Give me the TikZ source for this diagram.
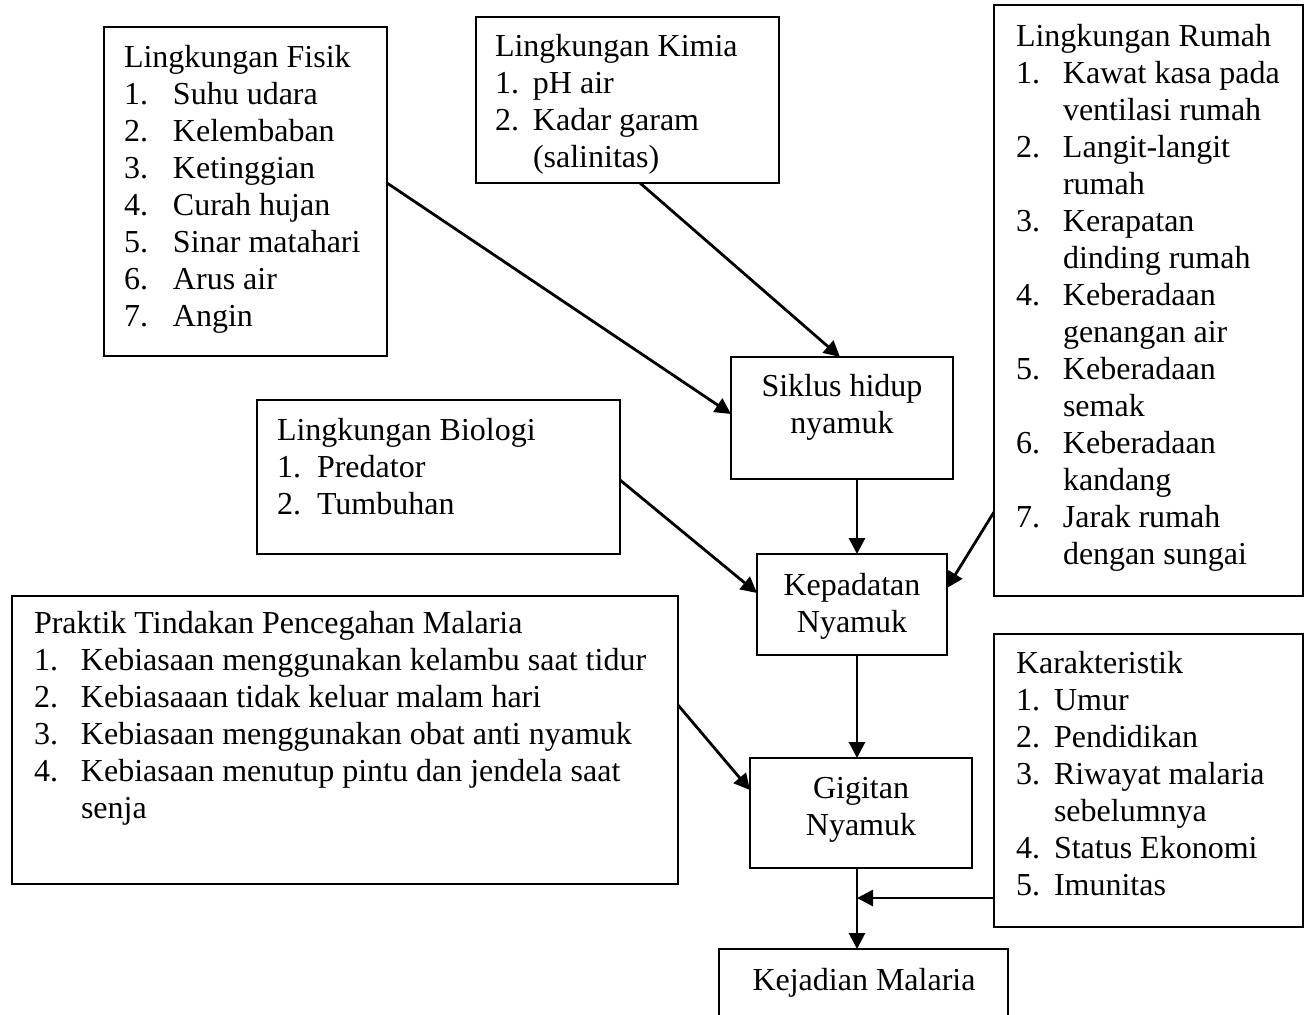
\documentclass[tikz,border=0pt]{standalone}
\usepackage{fontspec}
\setmainfont{Liberation Serif}
\usetikzlibrary{arrows.meta,calc}
\begin{document}
\begin{tikzpicture}[x=0.5pt,y=-0.5pt,
  box/.style={draw=black, line width=1pt, rectangle, inner sep=0pt, outer sep=0pt, anchor=north west},
  txt/.style={inner sep=0pt, outer sep=0pt, anchor=base west, font=\fontsize{16}{18.5}\selectfont},
  ctxt/.style={inner sep=0pt, outer sep=0pt, anchor=base, font=\fontsize{16}{18.5}\selectfont},
  arr/.style={line width=1.4pt, -{Triangle[length=8pt,width=8pt]}}]
\path[use as bounding box] (0,0) rectangle (1310,1014);
\clip (0,0) rectangle (1310,1014);

% boxes
\node[box, minimum width=141.5pt, minimum height=164.5pt] (fisik) at (104,27) {};
\node[box, minimum width=151.5pt, minimum height=83pt] (kimia) at (476,17) {};
\node[box, minimum width=154.5pt, minimum height=295.5pt] (rumah) at (994,5) {};
\node[box, minimum width=111pt, minimum height=61pt] (siklus) at (731,357) {};
\node[box, minimum width=181.5pt, minimum height=77pt] (biologi) at (257,400) {};
\node[box, minimum width=95pt, minimum height=50.5pt] (kepadatan) at (757,554) {};
\node[box, minimum width=333pt, minimum height=144pt] (praktik) at (12,596) {};
\node[box, minimum width=111pt, minimum height=55pt] (gigitan) at (750,758) {};
\node[box, minimum width=154.5pt, minimum height=146.5pt] (karakter) at (994,634) {};
\node[box, minimum width=144.5pt, minimum height=45.5pt] (kejadian) at (719,949) {};

% texts
\node[txt] (fisikt) at (124,67) {\begin{tabular}[t]{@{}p{24.5pt}@{}l@{}}
\multicolumn{2}{@{}l@{}}{Lingkungan Fisik}\\
1. & Suhu udara\\
2. & Kelembaban\\
3. & Ketinggian\\
4. & Curah hujan\\
5. & Sinar matahari\\
6. & Arus air\\
7. & Angin
\end{tabular}};

\node[txt] (kimiat) at (495,56) {\begin{tabular}[t]{@{}p{19pt}@{}l@{}}
\multicolumn{2}{@{}l@{}}{Lingkungan Kimia}\\
1. & pH air\\
2. & Kadar garam\\
 & (salinitas)
\end{tabular}};

\node[txt] (rumaht) at (1016,46) {\begin{tabular}[t]{@{}p{23.5pt}@{}l@{}}
\multicolumn{2}{@{}l@{}}{Lingkungan Rumah}\\
1. & Kawat kasa pada\\
 & ventilasi rumah\\
2. & Langit-langit\\
 & rumah\\
3. & Kerapatan\\
 & dinding rumah\\
4. & Keberadaan\\
 & genangan air\\
5. & Keberadaan\\
 & semak\\
6. & Keberadaan\\
 & kandang\\
7. & Jarak rumah\\
 & dengan sungai
\end{tabular}};

\node[txt] (biologit) at (277,440) {\begin{tabular}[t]{@{}p{20pt}@{}l@{}}
\multicolumn{2}{@{}l@{}}{Lingkungan Biologi}\\
1. & Predator\\
2. & Tumbuhan
\end{tabular}};

\node[txt] (praktikt) at (34,633) {\begin{tabular}[t]{@{}p{23.5pt}@{}l@{}}
\multicolumn{2}{@{}l@{}}{Praktik Tindakan Pencegahan Malaria}\\
1. & Kebiasaan menggunakan kelambu saat tidur\\
2. & Kebiasaaan tidak keluar malam hari\\
3. & Kebiasaan menggunakan obat anti nyamuk\\
4. & Kebiasaan menutup pintu dan jendela saat\\
 & senja
\end{tabular}};

\node[txt] (karaktert) at (1016,673) {\begin{tabular}[t]{@{}p{19pt}@{}l@{}}
\multicolumn{2}{@{}l@{}}{Karakteristik}\\
1. & Umur\\
2. & Pendidikan\\
3. & Riwayat malaria\\
 & sebelumnya\\
4. & Status Ekonomi\\
5. & Imunitas
\end{tabular}};

\node[ctxt] (sikluslabel) at (842,396) {\begin{tabular}[t]{@{}c@{}}Siklus hidup\\ nyamuk\end{tabular}};
\node[ctxt] (kepadatant) at (852,595) {\begin{tabular}[t]{@{}c@{}}Kepadatan\\ Nyamuk\end{tabular}};
\node[ctxt] (gigitant) at (861,798) {\begin{tabular}[t]{@{}c@{}}Gigitan\\ Nyamuk\end{tabular}};
\node[ctxt] (kejadiant) at (864,990) {Kejadian Malaria};

% connectors
\draw[arr] ($(fisik.north east)+(0,156)$) -- ($(siklus.north west)+(0,57)$);
\draw[arr] ($(kimia.south west)+(164,0)$) -- ($(siklus.north west)+(109,0)$);
\draw[arr] ($(siklus.south west)+(126,0)$) -- ($(kepadatan.north west)+(100,0)$);
\draw[arr] ($(biologi.north east)+(0,80)$) -- ($(kepadatan.north west)+(0,39)$);
\draw[arr] ($(rumah.north west)+(0,507)$) -- ($(kepadatan.north east)+(0,34)$);
\draw[arr] ($(kepadatan.south west)+(100,0)$) -- ($(gigitan.north west)+(107,0)$);
\draw[arr] ($(praktik.north east)+(0,109)$) -- ($(gigitan.north west)+(0,32)$);
\draw[arr] ($(gigitan.south west)+(107,0)$) -- ($(kejadian.north west)+(138,0)$);
\coordinate (join) at (857,898);
\draw[arr] ($(karakter.north west)+(0,264)$) -- (join);
\end{tikzpicture}
\end{document}
